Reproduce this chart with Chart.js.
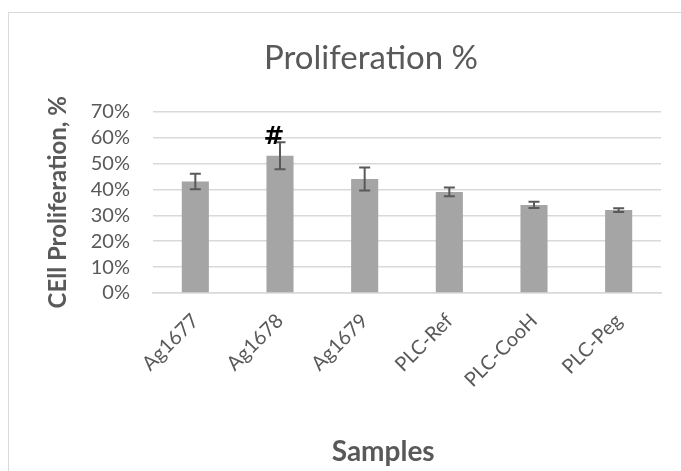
<!DOCTYPE html>
<html>
<head>
<meta charset="utf-8">
<style>
  html, body { margin: 0; padding: 0; background: #fff; overflow: hidden; }
  .frame { position: absolute; left: 8px; top: 12px; width: 700px; height: 480px; border: 1px solid #d9d9d9; }
  .wrap { position: absolute; left: 0; top: 0; width: 681px; height: 471px; }
</style>
</head>
<body>
<div class="frame"></div>
<div class="wrap">
  <canvas id="prolifChart" width="681" height="471"></canvas>
</div>
<script src="https://cdn.jsdelivr.net/npm/chart.js"></script>
<script>
// chart data
var samples = ['Ag1677', 'Ag1678', 'Ag1679', 'PLC-Ref', 'PLC-CooH', 'PLC-Peg'];
var proliferation = [43, 53, 44, 39, 34, 32];
var errors = [3, 5.2, 4.4, 1.7, 1.2, 0.7];
var marks = ['', '#', '', '', '', ''];

var errorBars = {
    id: 'errorBars',
    afterDatasetsDraw: function(chart) {
        var ctx = chart.ctx;
        var y = chart.scales.y;
        var meta = chart.getDatasetMeta(0);
        ctx.save();
        ctx.strokeStyle = '#595959';
        ctx.lineWidth = 2;
        meta.data.forEach(function(bar, i) {
            var top = y.getPixelForValue(proliferation[i] + errors[i]);
            var bot = y.getPixelForValue(proliferation[i] - errors[i]);
            ctx.beginPath();
            ctx.moveTo(bar.x, top); ctx.lineTo(bar.x, bot);
            ctx.moveTo(bar.x - 5.5, top); ctx.lineTo(bar.x + 5.5, top);
            ctx.moveTo(bar.x - 5.5, bot); ctx.lineTo(bar.x + 5.5, bot);
            ctx.stroke();
            if (marks[i]) {
                ctx.fillStyle = '#000';
                ctx.font = 'bold 25px "DejaVu Sans"';
                ctx.textAlign = 'center';
                ctx.textBaseline = 'middle';
                ctx.fillText(marks[i], bar.x - 6, top - 5);
            }
        });
        ctx.restore();
    }
};

var ctx = document.getElementById('prolifChart').getContext('2d');
var myBarChart = new Chart(ctx, {
    type: 'bar',
    data: {
        labels: samples,
        datasets: [{
            label: 'Proliferation %',
            data: proliferation,
            backgroundColor: '#a5a5a5',
            barPercentage: 0.32,
            categoryPercentage: 1
        }]
    },
    options: {
        responsive: false,
        animation: false,
        layout: { padding: { left: 81, right: 20, top: 20, bottom: 0 } },
        plugins: {
            legend: { display: false },
            tooltip: { enabled: false },
            title: {
                display: true,
                text: 'Proliferation %',
                color: '#595959',
                font: { family: 'Lato', size: 33, weight: 'normal' },
                padding: { top: 19, bottom: 33 }
            }
        },
        scales: {
            x: {
                afterFit: function(scale) { scale.height = 178; },
                grid: { display: false },
                border: { color: '#d9d9d9', width: 1.5 },
                ticks: {
                    autoSkip: false,
                    color: '#595959',
                    font: { family: 'Lato', size: 20 },
                    minRotation: 45,
                    maxRotation: 45,
                    padding: 8
                },
                title: {
                    display: true,
                    text: 'Samples\u00a0\u00a0\u00a0\u00a0\u00a0\u00a0\u00a0',
                    color: '#595959',
                    font: { family: 'Lato', size: 28, weight: 'bold' },
                    padding: { top: 0, bottom: 2 }
                }
            },
            y: {
                afterFit: function(scale) { scale.width = 72; },
                min: 0,
                max: 70,
                grid: { color: '#d9d9d9', lineWidth: 1.5, drawTicks: false },
                border: { display: false },
                ticks: {
                    autoSkip: false,
                    stepSize: 10,
                    color: '#595959',
                    font: { family: 'Lato', size: 20 },
                    padding: 23,
                    callback: function(v) { return v + '%'; }
                },
                title: {
                    display: true,
                    text: 'CEll Proliferation, %',
                    color: '#595959',
                    font: { family: 'Lato', size: 24, weight: 'bold' },
                    padding: { top: -37, bottom: 0 }
                }
            }
        }
    },
    plugins: [errorBars]
});
</script>
</body>
</html>
